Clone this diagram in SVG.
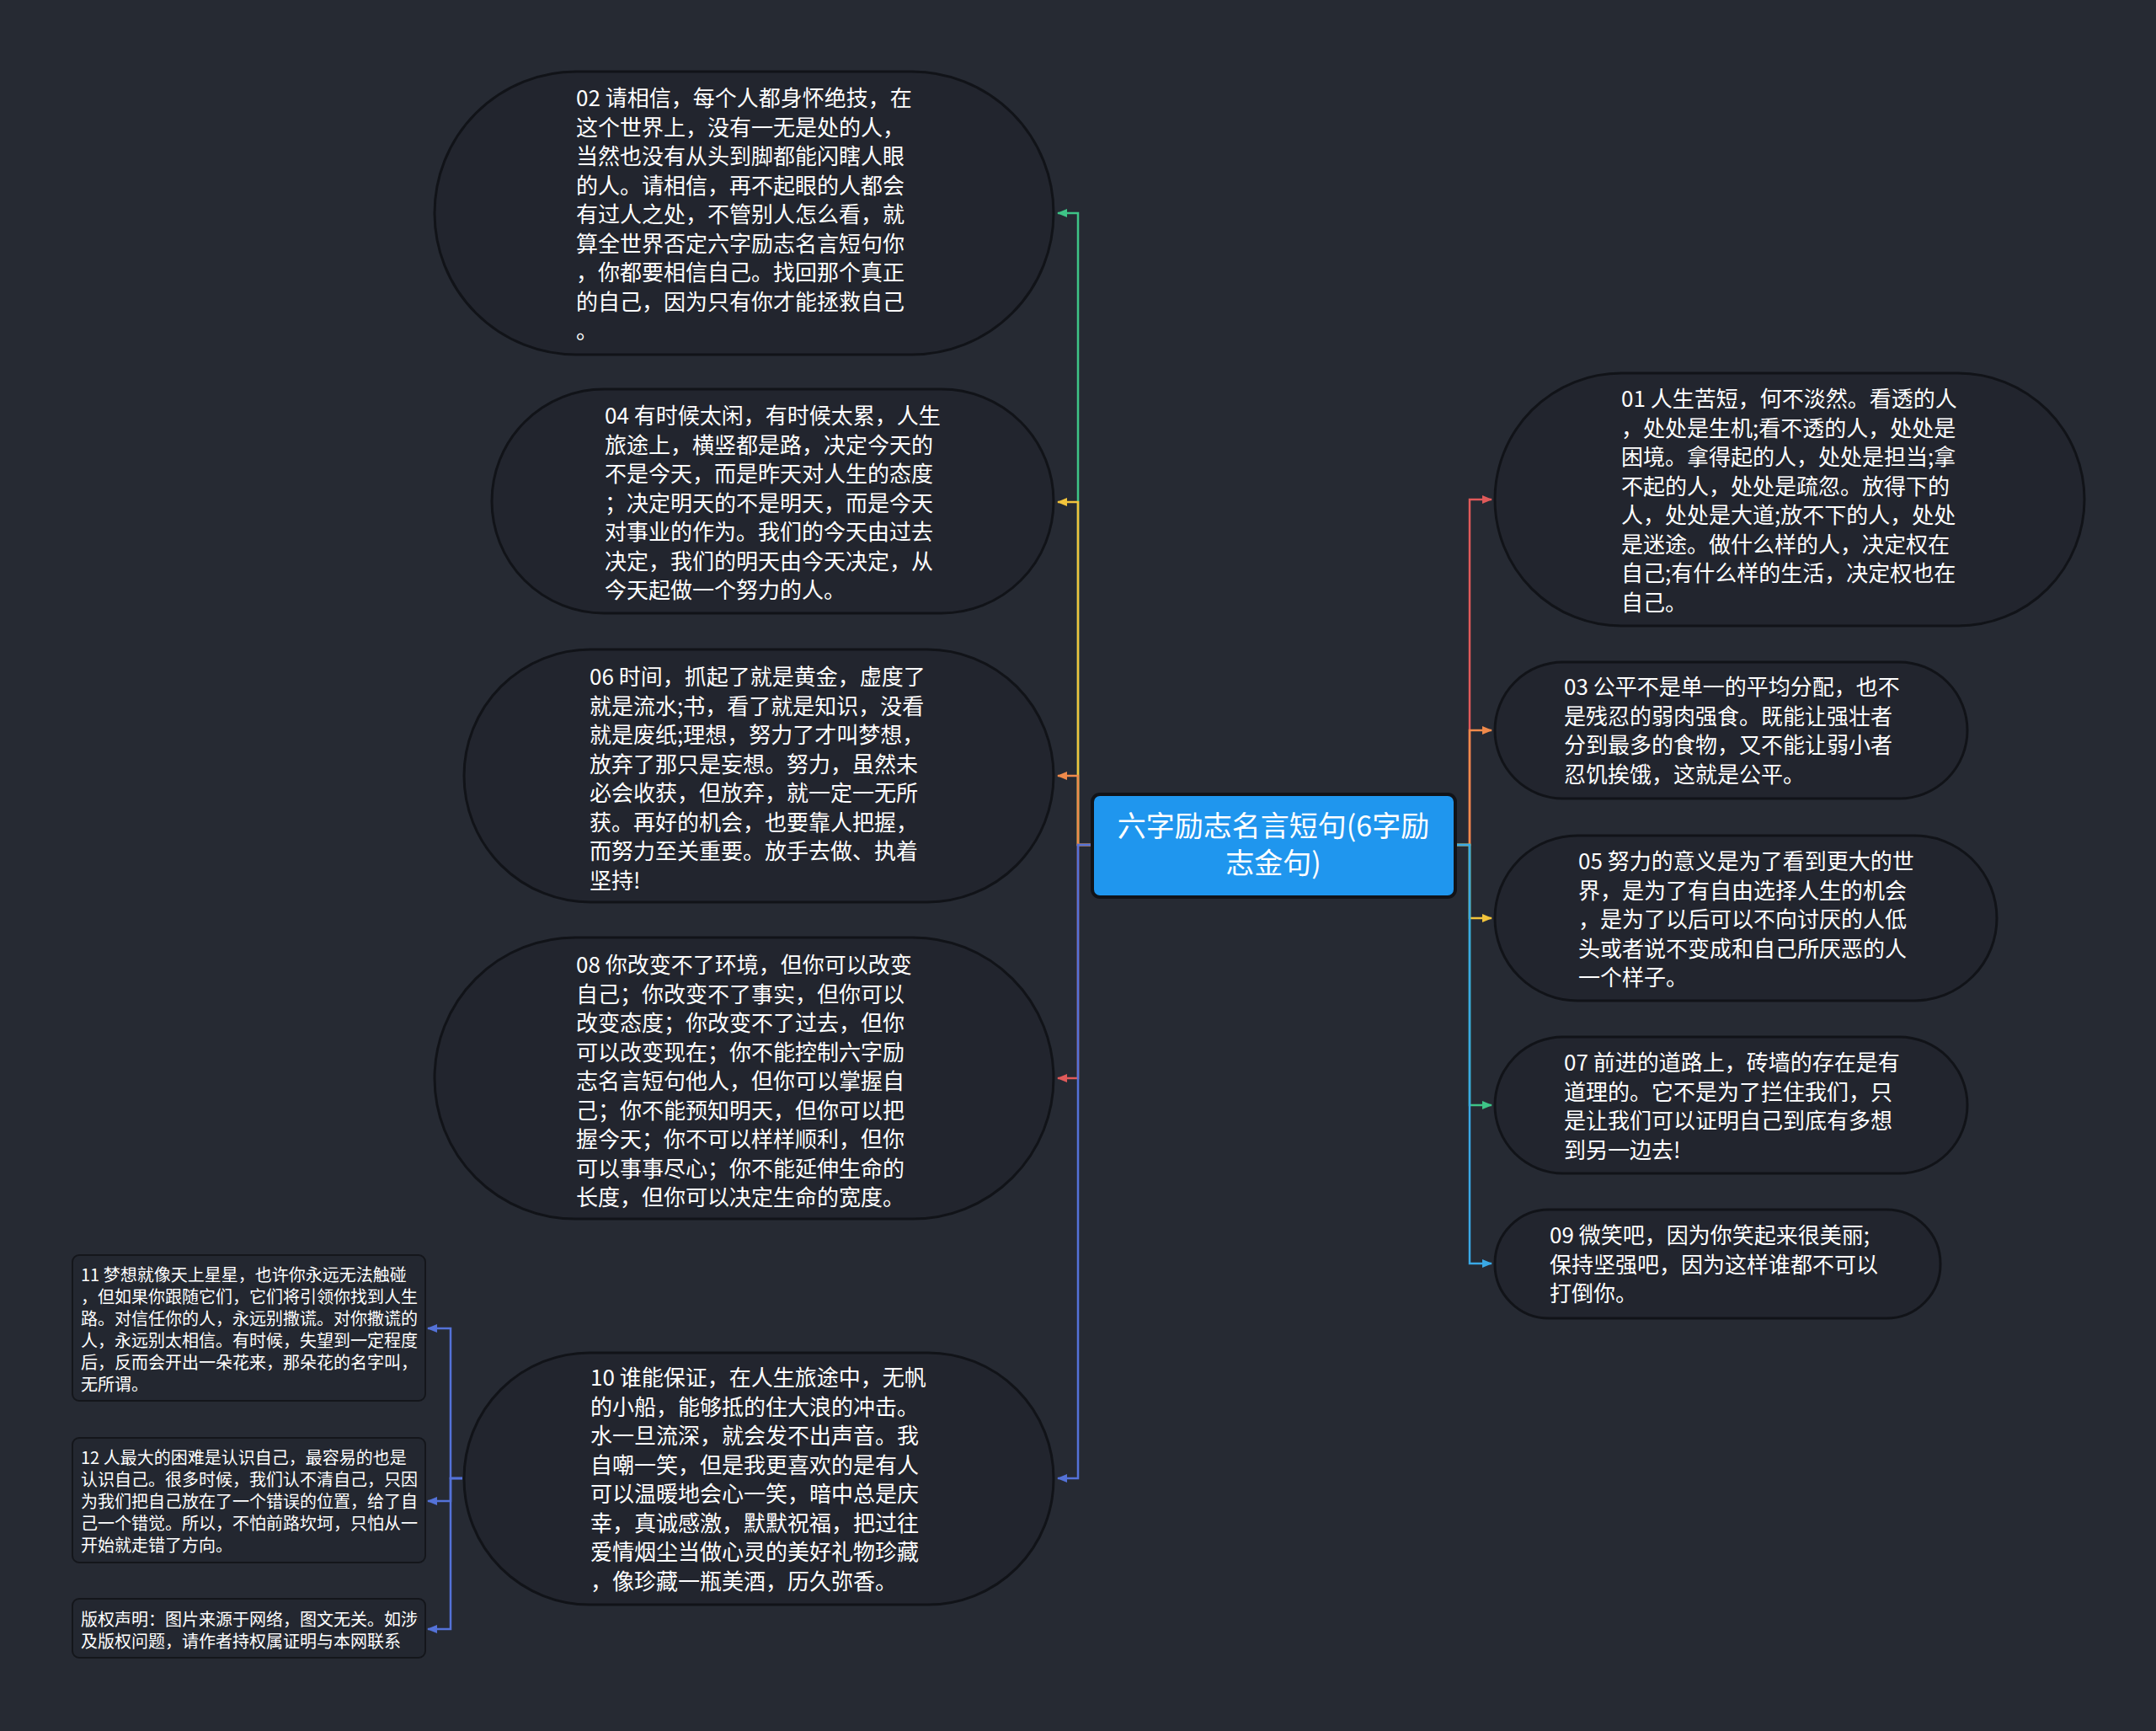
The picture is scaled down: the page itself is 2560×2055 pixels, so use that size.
<svg xmlns="http://www.w3.org/2000/svg" width="2560" height="2055" viewBox="0 0 2560 2055">
<style>
.bg{fill:#262a33}
.pill{fill:#22252e;stroke:#111318;stroke-width:3}
.box{fill:#232730;stroke:#14161b;stroke-width:2}
.t{font-family:"Noto Sans CJK SC","Noto Sans",sans-serif;font-size:26px;fill:#ffffff}
.s{font-family:"Noto Sans CJK SC","Noto Sans",sans-serif;font-size:20px;fill:#ffffff}
.c{font-family:"Noto Sans CJK SC","Noto Sans",sans-serif;font-size:34px;fill:#ffffff;text-anchor:middle}
.e{fill:none;stroke-width:2.5}
</style>
<defs>
<marker id="mg" markerUnits="userSpaceOnUse" markerWidth="12" markerHeight="12" refX="11" refY="6" orient="auto"><path d="M0,1 L12,6 L0,11 z" fill="#3ec487"/></marker>
<marker id="my" markerUnits="userSpaceOnUse" markerWidth="12" markerHeight="12" refX="11" refY="6" orient="auto"><path d="M0,1 L12,6 L0,11 z" fill="#f2c43c"/></marker>
<marker id="mo" markerUnits="userSpaceOnUse" markerWidth="12" markerHeight="12" refX="11" refY="6" orient="auto"><path d="M0,1 L12,6 L0,11 z" fill="#f08a4b"/></marker>
<marker id="mr" markerUnits="userSpaceOnUse" markerWidth="12" markerHeight="12" refX="11" refY="6" orient="auto"><path d="M0,1 L12,6 L0,11 z" fill="#e05a5a"/></marker>
<marker id="mb" markerUnits="userSpaceOnUse" markerWidth="12" markerHeight="12" refX="11" refY="6" orient="auto"><path d="M0,1 L12,6 L0,11 z" fill="#5472d8"/></marker>
<marker id="mc" markerUnits="userSpaceOnUse" markerWidth="12" markerHeight="12" refX="11" refY="6" orient="auto"><path d="M0,1 L12,6 L0,11 z" fill="#3aa9e6"/></marker>
</defs>
<rect class="bg" x="0" y="0" width="2560" height="2055"/>

<g id="connectors">
<path class="e" stroke="#3ec487" d="M1297 1003 H1280 V253 H1256" marker-end="url(#mg)"/>
<path class="e" stroke="#f2c43c" d="M1297 1003 H1280 V596 H1256" marker-end="url(#my)"/>
<path class="e" stroke="#f08a4b" d="M1297 1003 H1280 V921 H1256" marker-end="url(#mo)"/>
<path class="e" stroke="#e05a5a" d="M1297 1003 H1280 V1280 H1256" marker-end="url(#mr)"/>
<path class="e" stroke="#5472d8" d="M1297 1003 H1280 V1755 H1256" marker-end="url(#mb)"/>
<path class="e" stroke="#e05a5a" d="M1728 1003 H1745 V593 H1771" marker-end="url(#mr)"/>
<path class="e" stroke="#f08a4b" d="M1728 1003 H1745 V867 H1771" marker-end="url(#mo)"/>
<path class="e" stroke="#f2c43c" d="M1728 1003 H1745 V1090 H1771" marker-end="url(#my)"/>
<path class="e" stroke="#3ec487" d="M1728 1003 H1745 V1312 H1771" marker-end="url(#mg)"/>
<path class="e" stroke="#3aa9e6" d="M1728 1003 H1745 V1500 H1771" marker-end="url(#mc)"/>
<path class="e" stroke="#5472d8" d="M549 1755 H535 V1577 H508" marker-end="url(#mb)"/>
<path class="e" stroke="#5472d8" d="M549 1755 H535 V1782 H508" marker-end="url(#mb)"/>
<path class="e" stroke="#5472d8" d="M549 1755 H535 V1934 H508" marker-end="url(#mb)"/>
</g>

<g id="root">
<rect x="1297" y="943" width="431" height="122" rx="9" fill="#1f96ee" stroke="#111318" stroke-width="4"/>
<text class="c" x="1512" y="993">六字励志名言短句(6字励</text>
<text class="c" x="1512" y="1037">志金句)</text>
</g>

<g id="n02">
<rect class="pill" x="516" y="85" width="735" height="336" rx="168"/>
<text class="t" x="684" y="126">02 请相信，每个人都身怀绝技，在</text>
<text class="t" x="684" y="160.5">这个世界上，没有一无是处的人，</text>
<text class="t" x="684" y="195">当然也没有从头到脚都能闪瞎人眼</text>
<text class="t" x="684" y="229.5">的人。请相信，再不起眼的人都会</text>
<text class="t" x="684" y="264">有过人之处，不管别人怎么看，就</text>
<text class="t" x="684" y="298.5">算全世界否定六字励志名言短句你</text>
<text class="t" x="684" y="333">，你都要相信自己。找回那个真正</text>
<text class="t" x="684" y="367.5">的自己，因为只有你才能拯救自己</text>
<text class="t" x="684" y="402">。</text>
</g>

<g id="n04">
<rect class="pill" x="584" y="462" width="667" height="266" rx="133"/>
<text class="t" x="718" y="503">04 有时候太闲，有时候太累，人生</text>
<text class="t" x="718" y="537.5">旅途上，横竖都是路，决定今天的</text>
<text class="t" x="718" y="572">不是今天，而是昨天对人生的态度</text>
<text class="t" x="718" y="606.5">；决定明天的不是明天，而是今天</text>
<text class="t" x="718" y="641">对事业的作为。我们的今天由过去</text>
<text class="t" x="718" y="675.5">决定，我们的明天由今天决定，从</text>
<text class="t" x="718" y="710">今天起做一个努力的人。</text>
</g>

<g id="n06">
<rect class="pill" x="551" y="771" width="700" height="300" rx="150"/>
<text class="t" x="700" y="813">06 时间，抓起了就是黄金，虚度了</text>
<text class="t" x="700" y="847.5">就是流水;书，看了就是知识，没看</text>
<text class="t" x="700" y="882">就是废纸;理想，努力了才叫梦想，</text>
<text class="t" x="700" y="916.5">放弃了那只是妄想。努力，虽然未</text>
<text class="t" x="700" y="951">必会收获，但放弃，就一定一无所</text>
<text class="t" x="700" y="985.5">获。再好的机会，也要靠人把握，</text>
<text class="t" x="700" y="1020">而努力至关重要。放手去做、执着</text>
<text class="t" x="700" y="1054.5">坚持!</text>
</g>

<g id="n08">
<rect class="pill" x="516" y="1113" width="735" height="334" rx="167"/>
<text class="t" x="684" y="1155">08 你改变不了环境，但你可以改变</text>
<text class="t" x="684" y="1189.5">自己；你改变不了事实，但你可以</text>
<text class="t" x="684" y="1224">改变态度；你改变不了过去，但你</text>
<text class="t" x="684" y="1258.5">可以改变现在；你不能控制六字励</text>
<text class="t" x="684" y="1293">志名言短句他人，但你可以掌握自</text>
<text class="t" x="684" y="1327.5">己；你不能预知明天，但你可以把</text>
<text class="t" x="684" y="1362">握今天；你不可以样样顺利，但你</text>
<text class="t" x="684" y="1396.5">可以事事尽心；你不能延伸生命的</text>
<text class="t" x="684" y="1431">长度，但你可以决定生命的宽度。</text>
</g>

<g id="n10">
<rect class="pill" x="551" y="1606" width="700" height="299" rx="149"/>
<text class="t" x="701" y="1645">10 谁能保证，在人生旅途中，无帆</text>
<text class="t" x="701" y="1679.5">的小船，能够抵的住大浪的冲击。</text>
<text class="t" x="701" y="1714">水一旦流深，就会发不出声音。我</text>
<text class="t" x="701" y="1748.5">自嘲一笑，但是我更喜欢的是有人</text>
<text class="t" x="701" y="1783">可以温暖地会心一笑，暗中总是庆</text>
<text class="t" x="701" y="1817.5">幸，真诚感激，默默祝福，把过往</text>
<text class="t" x="701" y="1852">爱情烟尘当做心灵的美好礼物珍藏</text>
<text class="t" x="701" y="1886.5">，像珍藏一瓶美酒，历久弥香。</text>
</g>

<g id="n11">
<rect class="box" x="86" y="1490" width="419" height="173" rx="8"/>
<text class="s" x="96" y="1521">11 梦想就像天上星星，也许你永远无法触碰</text>
<text class="s" x="96" y="1547">，但如果你跟随它们，它们将引领你找到人生</text>
<text class="s" x="96" y="1573">路。对信任你的人，永远别撒谎。对你撒谎的</text>
<text class="s" x="96" y="1599">人，永远别太相信。有时候，失望到一定程度</text>
<text class="s" x="96" y="1625">后，反而会开出一朵花来，那朵花的名字叫，</text>
<text class="s" x="96" y="1651">无所谓。</text>
</g>

<g id="n12">
<rect class="box" x="86" y="1707" width="419" height="148" rx="8"/>
<text class="s" x="96" y="1738">12 人最大的困难是认识自己，最容易的也是</text>
<text class="s" x="96" y="1764">认识自己。很多时候，我们认不清自己，只因</text>
<text class="s" x="96" y="1790">为我们把自己放在了一个错误的位置，给了自</text>
<text class="s" x="96" y="1816">己一个错觉。所以，不怕前路坎坷，只怕从一</text>
<text class="s" x="96" y="1842">开始就走错了方向。</text>
</g>

<g id="copyright">
<rect class="box" x="86" y="1898" width="419" height="70" rx="8"/>
<text class="s" x="96" y="1930">版权声明：图片来源于网络，图文无关。如涉</text>
<text class="s" x="96" y="1956">及版权问题，请作者持权属证明与本网联系</text>
</g>

<g id="n01">
<rect class="pill" x="1775" y="443" width="700" height="300" rx="150"/>
<text class="t" x="1925" y="483">01 人生苦短，何不淡然。看透的人</text>
<text class="t" x="1925" y="517.5">，处处是生机;看不透的人，处处是</text>
<text class="t" x="1925" y="552">困境。拿得起的人，处处是担当;拿</text>
<text class="t" x="1925" y="586.5">不起的人，处处是疏忽。放得下的</text>
<text class="t" x="1925" y="621">人，处处是大道;放不下的人，处处</text>
<text class="t" x="1925" y="655.5">是迷途。做什么样的人，决定权在</text>
<text class="t" x="1925" y="690">自己;有什么样的生活，决定权也在</text>
<text class="t" x="1925" y="724.5">自己。</text>
</g>

<g id="n03">
<rect class="pill" x="1775" y="786" width="561" height="162" rx="81"/>
<text class="t" x="1857" y="825">03 公平不是单一的平均分配，也不</text>
<text class="t" x="1857" y="859.5">是残忍的弱肉强食。既能让强壮者</text>
<text class="t" x="1857" y="894">分到最多的食物，又不能让弱小者</text>
<text class="t" x="1857" y="928.5">忍饥挨饿，这就是公平。</text>
</g>

<g id="n05">
<rect class="pill" x="1775" y="992" width="596" height="196" rx="98"/>
<text class="t" x="1874" y="1032">05 努力的意义是为了看到更大的世</text>
<text class="t" x="1874" y="1066.5">界，是为了有自由选择人生的机会</text>
<text class="t" x="1874" y="1101">，是为了以后可以不向讨厌的人低</text>
<text class="t" x="1874" y="1135.5">头或者说不变成和自己所厌恶的人</text>
<text class="t" x="1874" y="1170">一个样子。</text>
</g>

<g id="n07">
<rect class="pill" x="1775" y="1231" width="561" height="162" rx="81"/>
<text class="t" x="1857" y="1271">07 前进的道路上，砖墙的存在是有</text>
<text class="t" x="1857" y="1305.5">道理的。它不是为了拦住我们，只</text>
<text class="t" x="1857" y="1340">是让我们可以证明自己到底有多想</text>
<text class="t" x="1857" y="1374.5">到另一边去!</text>
</g>

<g id="n09">
<rect class="pill" x="1775" y="1436" width="529" height="129" rx="64"/>
<text class="t" x="1840" y="1476">09 微笑吧，因为你笑起来很美丽;</text>
<text class="t" x="1840" y="1510.5">保持坚强吧，因为这样谁都不可以</text>
<text class="t" x="1840" y="1545">打倒你。</text>
</g>
</svg>
